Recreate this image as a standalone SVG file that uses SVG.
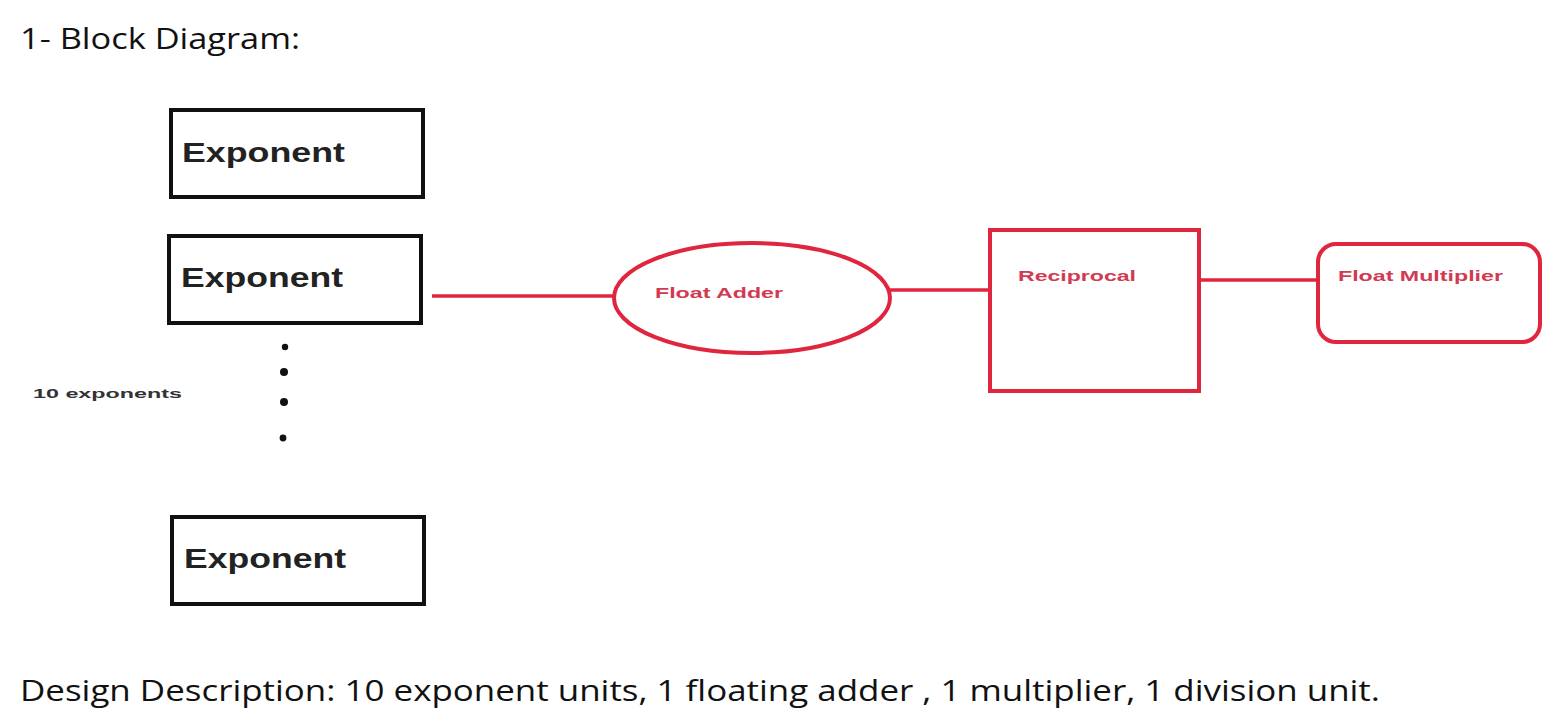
<svg xmlns="http://www.w3.org/2000/svg" width="1553" height="725" viewBox="0 0 1553 725">
<style>
.blk{fill:#fff;stroke:#111;stroke-width:4}
.red{fill:#fff;stroke:#e0263e;stroke-width:4}
.con{stroke:#e0263e;stroke-width:3.5;fill:none}
.exp{font-family:"Liberation Sans",Arial,sans-serif;font-weight:bold;font-size:28px;fill:#222}
.rt{font-family:"Liberation Sans",Arial,sans-serif;font-weight:bold;font-size:15px;fill:#d23a52}
.doc{font-family:"Open Sans","Liberation Sans",sans-serif;font-size:30px;fill:#111}
</style>
<rect width="1553" height="725" fill="#fff"/>
<text class="doc" x="20" y="49" textLength="280" lengthAdjust="spacingAndGlyphs">1- Block Diagram:</text>
<g id="exp1"><rect class="blk" x="171" y="110" width="252" height="87"/><text class="exp" x="182" y="162" textLength="163" lengthAdjust="spacingAndGlyphs">Exponent</text></g>
<g id="exp2"><rect class="blk" x="169" y="236" width="252" height="87"/><text class="exp" x="181" y="287" textLength="162" lengthAdjust="spacingAndGlyphs">Exponent</text></g>
<g id="dots" fill="#111"><circle cx="285" cy="347" r="3.2"/><circle cx="284" cy="372" r="4"/><circle cx="284" cy="402" r="4"/><circle cx="283" cy="438" r="3.4"/></g>
<g id="label10"><text class="rt" style="fill:#333;font-size:13.5px" x="33" y="398" textLength="149" lengthAdjust="spacingAndGlyphs">10 exponents</text></g>
<g id="exp3"><rect class="blk" x="172" y="517" width="252" height="87"/><text class="exp" x="184" y="568" textLength="162" lengthAdjust="spacingAndGlyphs">Exponent</text></g>
<g id="connectors">
<line class="con" x1="432" y1="296" x2="614" y2="296"/>
<line class="con" x1="890" y1="290" x2="990" y2="290"/>
<line class="con" x1="1200" y1="280" x2="1318" y2="280"/>
</g>
<g id="adder"><ellipse class="red" cx="752" cy="298" rx="138" ry="55"/><text class="rt" x="655" y="298" textLength="128" lengthAdjust="spacingAndGlyphs">Float Adder</text></g>
<g id="recip"><rect class="red" x="990" y="230" width="209" height="161"/><text class="rt" x="1018" y="281" textLength="118" lengthAdjust="spacingAndGlyphs">Reciprocal</text></g>
<g id="mult"><rect class="red" x="1318" y="244" width="222" height="98" rx="18"/><text class="rt" x="1338" y="281" textLength="165" lengthAdjust="spacingAndGlyphs">Float Multiplier</text></g>
<text class="doc" x="20" y="701" textLength="1360" lengthAdjust="spacingAndGlyphs">Design Description: 10 exponent units, 1 floating adder , 1 multiplier, 1 division unit.</text>
</svg>
